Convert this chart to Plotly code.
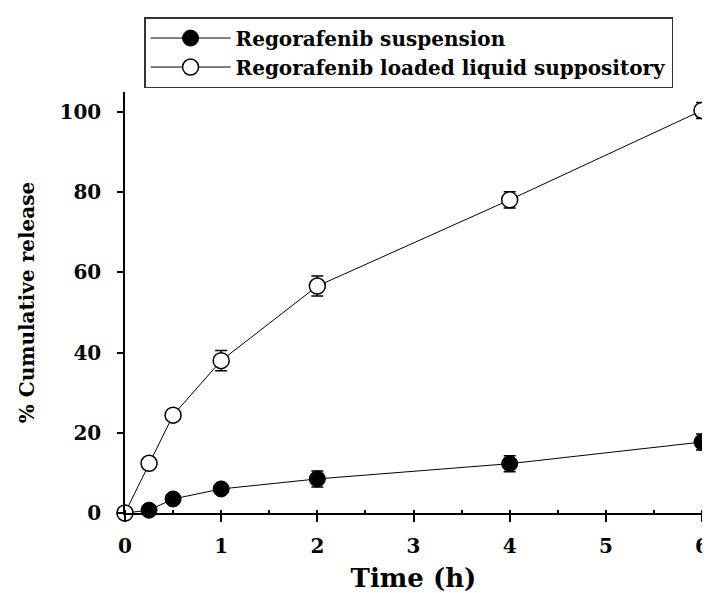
import plotly.graph_objects as go

time_h = [0, 0.25, 0.5, 1, 2, 4, 6]
suspension = [0, 0.7, 3.5, 6.0, 8.5, 12.3, 17.7]
suspension_err = [0, 0, 0, 0, 2.0, 2.0, 2.0]
suppository = [0, 12.4, 24.4, 38.0, 56.6, 78.1, 100.4]
suppository_err = [0, 0, 0, 2.5, 2.5, 2.0, 2.0]

FONT = "DejaVu Serif"

fig = go.Figure()
fig.add_trace(go.Scatter(
    x=time_h, y=suspension, mode="lines+markers",
    name="Regorafenib suspension",
    line=dict(color="black", width=1),
    marker=dict(symbol="circle", size=16, color="black", line=dict(color="black", width=1)),
    error_y=dict(type="data", array=suspension_err, visible=True, color="black", thickness=1.5, width=6),
    cliponaxis=False,
))
fig.add_trace(go.Scatter(
    x=time_h, y=suppository, mode="lines+markers",
    name="Regorafenib loaded liquid suppository",
    line=dict(color="black", width=1),
    marker=dict(symbol="circle", size=16, color="white", line=dict(color="black", width=1.5)),
    error_y=dict(type="data", array=suppository_err, visible=True, color="black", thickness=1.5, width=6),
    cliponaxis=False,
))

# The page body has an 8px margin, so the figure is 8px smaller on each axis.
fig.update_layout(
    width=702, height=585,
    margin=dict(l=117, r=8, t=84, b=80, autoexpand=False),
    paper_bgcolor="white", plot_bgcolor="white",
    font=dict(family=FONT, color="black", size=20, weight="bold"),
    showlegend=True,
    legend=dict(
        x=0.033, y=1.178, xanchor="left", yanchor="top",
        bordercolor="#333333", borderwidth=1.5, bgcolor="white",
        font=dict(family=FONT, size=20, color="black", weight="bold"),
        tracegroupgap=0, itemwidth=80,
    ),
    xaxis=dict(
        range=[0, 6], dtick=1, tick0=0,
        showline=True, linecolor="black", linewidth=1.5,
        ticks="outside", ticklen=7, tickwidth=1.5, tickcolor="black",
        minor=dict(ticks="inside", dtick=0.5, ticklen=3, tickwidth=1.5, tickcolor="black"),
        showgrid=False, zeroline=False,
        tickfont=dict(family=FONT, size=20, weight="bold"),
        ticklabelstandoff=7,
        title=dict(text="Time (h)", font=dict(family=FONT, size=26, weight="bold"), standoff=12),
    ),
    yaxis=dict(
        range=[0, 105], dtick=20, tick0=0,
        showline=True, linecolor="black", linewidth=1.5,
        ticks="outside", ticklen=6, tickwidth=1.5, tickcolor="black",
        showgrid=False, zeroline=False,
        tickfont=dict(family=FONT, size=20, weight="bold"),
        ticklabelstandoff=12,
        title=dict(text="% Cumulative release", font=dict(family=FONT, size=20, weight="bold"), standoff=20),
    ),
)

fig.write_html("out.html")
